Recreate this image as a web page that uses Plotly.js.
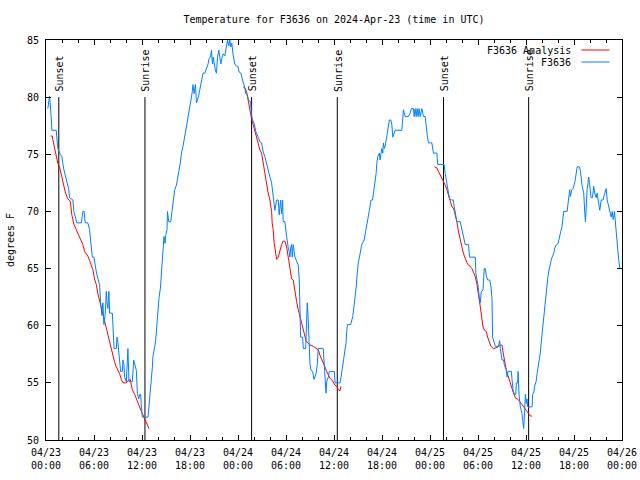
<!DOCTYPE html>
<html>
<head>
<meta charset="utf-8">
<script src="https://cdn.plot.ly/plotly-3.0.1.min.js"></script>
<style>html,body{margin:0;padding:0;background:#fff;}</style>
</head>
<body>
<div id="chart" style="width:640px;height:480px;"></div>
<script>
// Hours since 2024-04-23 00:00 UTC
var tickHours = [0, 6, 12, 18, 24, 30, 36, 42, 48, 54, 60, 66, 72];
var tickLabels = ["04/23<br>00:00","04/23<br>06:00","04/23<br>12:00","04/23<br>18:00",
                  "04/24<br>00:00","04/24<br>06:00","04/24<br>12:00","04/24<br>18:00",
                  "04/25<br>00:00","04/25<br>06:00","04/25<br>12:00","04/25<br>18:00",
                  "04/26<br>00:00"];

// Observed F3636 temperatures (deg F)
var obsHours = [
 0.23,0.44,0.65,0.73,1.28,1.48,1.78,1.98,2.19,2.44,
 2.60,2.85,2.94,3.36,3.48,3.86,4.41,4.61,4.76,4.91,
 5.23,5.45,5.57,5.66,5.79,5.99,6.16,6.29,6.49,6.70,
 6.82,6.99,7.11,7.24,7.41,7.54,7.61,7.74,7.86,7.95,
 8.29,8.45,8.51,8.79,8.87,8.99,9.08,9.20,9.33,9.54,
 9.62,9.74,9.83,10.04,10.12,10.24,10.37,10.79,10.96,11.08,
 11.29,11.42,11.58,11.71,11.83,11.92,12.05,12.75,12.87,13.05,
 13.17,13.30,13.37,13.50,13.59,13.71,13.87,14.00,14.12,14.30,
 14.43,14.55,14.63,14.75,14.88,14.96,15.13,15.18,15.34,15.59,
 15.75,15.88,16.09,16.30,16.43,16.63,16.80,16.93,17.13,17.34,
 17.43,17.56,17.68,17.84,17.97,18.18,18.31,18.38,18.51,18.68,
 18.81,18.93,19.10,19.22,19.43,19.63,19.85,20.06,20.26,20.39,
 20.56,20.69,20.81,20.91,21.04,21.19,21.31,21.44,21.60,21.73,
 21.85,21.98,22.14,22.35,22.56,22.69,22.85,22.98,23.10,23.23,
 23.39,23.60,23.82,23.98,24.14,24.36,24.57,24.73,24.86,24.98,
 25.14,25.36,25.57,25.69,25.82,26.02,26.23,26.52,26.73,26.95,
 27.15,27.36,27.57,27.77,27.99,28.20,28.40,28.61,28.83,29.03,
 29.15,29.33,29.45,29.58,29.65,29.86,30.08,30.15,30.28,30.40,
 30.49,30.58,30.70,30.78,30.90,31.12,31.33,31.53,31.66,31.74,
 31.83,32.08,32.16,32.46,32.58,32.66,32.78,32.91,33.00,33.12,
 33.33,33.50,33.62,33.75,33.91,34.03,34.66,34.75,34.87,35.00,
 35.09,35.29,35.41,36.04,36.13,36.75,36.88,37.04,37.25,37.38,
 37.50,37.59,37.67,38.09,38.34,38.50,38.63,38.76,38.92,39.04,
 39.26,39.47,39.76,39.88,40.01,40.22,40.42,40.63,40.82,41.01,
 41.14,41.26,41.35,41.47,41.67,41.76,41.97,42.10,42.17,42.30,
 42.42,42.60,42.80,42.92,43.10,43.23,43.35,43.51,43.64,44.48,
 44.60,44.68,44.89,45.10,45.30,45.52,45.68,45.93,46.02,46.14,
 46.27,46.39,46.52,46.64,46.77,46.98,47.18,47.40,47.52,47.68,
 47.81,48.23,48.43,48.86,48.96,49.77,49.90,50.03,50.19,50.44,
 50.74,50.90,51.03,51.15,51.36,51.78,51.99,52.19,52.40,52.82,
 52.94,53.66,53.74,53.87,53.99,54.16,54.28,54.41,54.62,54.78,
 54.91,55.03,55.20,55.47,55.62,55.75,55.82,56.04,56.16,56.57,
 56.70,56.79,56.91,57.00,57.20,57.29,57.54,57.63,57.75,58.17,
 58.25,58.38,58.54,58.73,58.79,58.96,59.01,59.13,59.29,59.50,
 59.58,59.71,59.79,59.92,60.04,60.13,60.21,60.76,60.83,60.96,
 61.08,61.26,61.38,61.58,61.80,62.01,62.13,62.30,62.42,62.55,
 62.71,62.83,62.96,63.14,63.26,63.46,63.59,63.80,64.01,64.17,
 64.30,64.51,64.71,65.14,65.26,65.46,65.55,65.72,65.89,66.09,
 66.27,66.40,66.68,66.81,67.02,67.22,67.35,67.43,67.56,67.64,
 67.84,67.97,68.14,68.31,68.47,68.59,68.77,68.89,69.02,69.22,
 69.40,69.62,69.81,70.02,70.15,70.35,70.48,70.65,70.78,70.90,
 71.06,71.19,71.31,71.40,71.48,71.60,71.73,71.90
];
var obsTemp = [
 79.0,80.1,78.3,77.1,77.1,75.5,75.0,74.8,73.8,73.0,
 72.5,71.9,71.2,71.0,70.0,69.0,69.0,70.0,70.0,69.0,
 69.0,68.4,67.5,66.5,66.0,66.0,65.2,64.7,64.1,63.6,
 62.1,60.9,62.0,60.1,61.1,63.0,62.1,61.5,63.0,61.1,
 61.1,59.5,58.0,58.0,59.0,58.5,57.6,56.4,56.0,56.0,
 57.0,56.6,55.5,55.1,56.4,58.0,55.1,55.1,57.0,56.7,
 56.1,54.1,53.6,54.0,54.0,52.9,52.0,52.0,52.9,54.1,
 55.5,56.4,57.3,57.7,58.2,58.7,60.5,61.4,62.4,63.3,
 64.9,65.9,67.1,67.8,67.2,67.9,68.4,70.0,69.1,69.1,
 70.0,70.6,71.9,72.3,72.7,73.6,74.3,75.1,75.7,76.5,
 77.1,77.7,78.1,78.7,79.2,80.0,80.6,81.1,80.3,81.1,
 79.5,79.7,80.2,80.6,81.3,82.1,82.1,82.5,82.9,83.4,
 83.5,84.1,82.9,83.5,82.9,82.3,82.1,83.5,84.1,83.2,
 82.9,83.4,83.8,83.6,84.4,85.0,84.5,85.0,84.4,84.7,
 83.7,82.9,82.7,82.7,82.2,82.1,81.5,81.2,80.8,80.3,
 80.2,79.7,79.6,78.4,78.0,77.7,77.0,76.5,76.1,76.0,
 75.2,74.8,74.1,73.5,73.0,72.5,71.0,70.1,71.0,71.0,
 69.7,71.0,69.8,71.0,69.1,69.1,67.8,67.2,66.8,66.5,
 66.0,66.8,67.1,66.0,67.1,66.0,65.7,65.3,64.0,62.2,
 59.0,59.0,58.0,58.0,59.9,62.0,60.5,58.0,56.6,56.1,
 56.0,55.3,55.5,55.8,56.6,58.0,58.0,57.0,55.8,54.1,
 55.1,55.5,56.0,56.0,55.0,55.0,55.5,56.3,57.1,57.7,
 58.5,59.5,60.1,60.1,60.8,61.7,62.4,63.3,64.7,65.5,
 66.3,67.1,67.5,67.9,68.4,69.3,70.1,71.0,71.0,71.9,
 72.5,73.3,74.2,74.8,75.1,74.5,75.5,75.1,76.0,75.5,
 75.8,76.5,77.4,78.0,78.0,77.6,76.5,76.8,77.1,77.1,
 78.0,78.9,78.3,78.3,78.3,78.6,79.0,79.0,78.3,79.0,
 78.3,79.0,78.3,79.0,78.3,79.0,78.3,78.3,77.4,76.5,
 76.0,76.0,75.1,75.1,74.1,74.1,73.3,72.7,71.9,71.1,
 71.0,71.0,70.4,70.0,69.1,69.1,68.4,67.9,67.1,67.1,
 66.0,66.0,64.6,64.0,63.6,62.5,62.0,63.0,63.1,65.0,
 65.0,64.4,64.0,64.0,63.4,62.4,59.0,58.5,58.2,58.2,
 58.7,58.0,57.6,57.0,57.0,56.6,56.1,55.5,56.0,56.0,
 55.3,54.4,54.0,54.0,55.0,55.0,56.0,54.0,52.9,52.3,
 51.7,51.0,52.0,54.0,53.2,53.6,52.9,52.9,54.0,54.1,
 54.7,55.1,55.8,56.7,57.7,59.3,60.2,61.5,62.5,63.3,
 64.1,64.7,65.3,65.7,66.0,66.3,66.8,67.1,67.2,67.6,
 68.1,68.7,70.0,70.0,71.0,71.9,71.3,71.9,72.0,72.5,
 73.3,73.9,73.9,73.5,72.2,71.6,69.8,69.1,70.8,71.9,
 73.0,72.2,71.2,71.2,72.2,71.6,71.2,71.6,71.0,70.1,
 71.0,71.0,71.5,72.0,71.0,70.4,70.0,69.5,70.0,69.3,
 70.0,69.1,68.2,67.8,66.6,65.7,65.0,65.0
];

// F3636 analysis (three overnight segments, null = gap)
var anaHours = [
 0.56,0.78,0.94,1.19,1.48,1.69,1.90,2.10,2.19,2.44,
 2.73,3.03,3.23,3.48,3.78,3.98,4.28,4.61,4.82,5.03,
 5.23,5.45,5.66,5.86,6.07,6.29,6.49,6.70,6.91,7.11,
 7.33,7.54,7.74,7.95,8.16,8.36,8.58,8.79,8.99,9.20,
 9.42,9.62,10.04,10.24,10.54,10.79,11.08,11.29,11.49,11.71,
 11.92,12.12,12.33,12.55,12.75,12.87,
 null,
 24.64,24.86,25.07,25.27,25.48,25.69,25.90,26.11,26.32,26.52,
 26.73,26.95,27.15,27.36,27.57,27.77,27.99,28.20,28.27,28.40,
 28.53,28.70,28.83,29.03,29.24,29.45,29.65,29.86,30.08,30.20,
 30.37,30.49,30.70,30.90,31.03,31.20,31.33,31.53,31.74,31.96,
 32.16,32.37,32.50,32.71,33.00,33.41,33.83,34.03,34.25,34.46,
 34.66,34.87,35.09,35.29,35.50,35.71,35.91,36.13,36.34,36.54,
 36.75,36.88,
 null,
 48.56,48.86,49.06,49.27,49.49,49.69,49.90,50.11,50.31,50.53,
 50.74,50.94,51.15,51.36,51.57,51.78,51.99,52.19,52.40,52.62,
 52.82,53.03,53.24,53.44,53.66,53.87,54.07,54.28,54.49,54.62,
 54.82,55.03,55.20,55.41,55.62,55.95,56.37,56.79,57.00,57.13,
 57.29,57.41,57.54,57.70,57.88,58.04,58.25,58.45,58.66,58.88,
 59.08,59.29,59.50,59.71,59.92,60.13,60.33,60.54,60.76
];
var anaTemp = [
 76.6,76.6,76.0,75.1,74.2,73.9,73.3,72.7,72.2,71.6,
 71.1,70.9,69.7,68.9,68.4,68.1,67.6,67.1,66.5,66.3,
 66.1,65.7,65.3,64.9,64.1,63.6,62.8,62.2,61.5,60.9,
 60.4,59.8,59.2,58.6,57.9,57.4,56.8,56.4,56.1,55.8,
 55.3,55.0,55.0,55.2,55.3,54.4,54.0,53.6,53.2,52.9,
 52.5,52.2,51.9,51.6,51.3,51.0,
 null,
 80.9,80.8,80.5,79.7,78.9,78.1,77.6,77.0,76.5,76.0,
 75.4,75.1,74.2,73.3,72.5,71.6,71.0,70.0,69.0,68.4,
 67.2,66.2,65.8,66.0,66.6,67.1,67.4,67.4,66.9,66.3,
 65.5,64.7,64.1,64.0,63.3,62.5,62.1,61.4,60.8,60.4,
 59.8,59.2,58.7,58.5,58.3,58.2,58.0,57.9,57.4,57.0,
 56.7,56.4,56.0,55.7,55.4,55.3,55.0,54.8,54.7,54.4,
 54.3,54.7,
 null,
 73.9,73.8,73.5,73.2,72.9,72.7,72.3,71.9,71.4,70.9,
 70.4,70.3,69.7,69.1,68.2,67.4,66.9,66.3,65.8,65.5,
 65.3,65.2,65.0,64.7,64.3,63.6,62.8,61.7,60.6,59.9,
 59.6,59.5,59.0,58.6,58.2,58.0,58.1,58.3,58.3,57.7,
 57.2,56.6,56.1,55.7,55.3,55.0,54.5,54.1,53.7,53.6,
 53.5,53.3,53.1,53.0,52.8,52.5,52.3,52.1,52.1
];

// Sunrise / sunset markers
var sunHours = [1.60, 12.37, 25.70, 36.41, 49.69, 60.33];
var sunLabels = ["Sunset", "Sunrise", "Sunset", "Sunrise", "Sunset", "Sunrise"];
var sunLineBottom = 50;
var sunLineTop = 80;

var FONT = "DejaVu Sans Mono, Liberation Mono, monospace";
var BLUE = "rgb(0,128,255)";
var RED = "rgb(255,0,0)";

var traces = [];
sunHours.forEach(function (h) {
  traces.push({
    x: [h, h], y: [sunLineBottom, sunLineTop], mode: "lines",
    line: {color: "black", width: 1}, hoverinfo: "skip", showlegend: false
  });
});
traces.push({
  x: anaHours, y: anaTemp, mode: "lines", name: "F3636 Analysis",
  line: {color: RED, width: 1}, connectgaps: false
});
traces.push({
  x: obsHours, y: obsTemp, mode: "lines", name: "F3636",
  line: {color: BLUE, width: 1}
});

var annotations = sunHours.map(function (h, i) {
  return {
    x: h, y: sunLineTop + 0.3, xref: "x", yref: "y",
    text: sunLabels[i], showarrow: false, textangle: -90,
    xanchor: "center", yanchor: "bottom", xshift: 1,
    font: {family: FONT, size: 10, color: "black"}
  };
});
annotations.push({
  x: 0.9157, y: 0.975, xref: "paper", yref: "paper", text: "F3636 Analysis",
  showarrow: false, xanchor: "right", yanchor: "middle",
  font: {family: FONT, size: 10, color: "black"}
});
annotations.push({
  x: 0.9157, y: 0.945, xref: "paper", yref: "paper", text: "F3636",
  showarrow: false, xanchor: "right", yanchor: "middle",
  font: {family: FONT, size: 10, color: "black"}
});

var shapes = [
  {type: "line", xref: "paper", yref: "paper", x0: 0.9296, x1: 0.9783, y0: 0.975, y1: 0.975,
   line: {color: RED, width: 1}},
  {type: "line", xref: "paper", yref: "paper", x0: 0.9296, x1: 0.9783, y0: 0.945, y1: 0.945,
   line: {color: BLUE, width: 1}}
];

var layout = {
  width: 640, height: 480,
  margin: {l: 46, r: 18, t: 40, b: 40, pad: 0},
  paper_bgcolor: "white", plot_bgcolor: "white",
  showlegend: false, hovermode: false,
  font: {family: FONT, size: 10, color: "black"},
  title: {
    text: "Temperature for F3636 on 2024-Apr-23 (time in UTC)",
    font: {family: FONT, size: 10, color: "black"},
    x: 0.5, xref: "paper", xanchor: "center",
    y: 1 - 19 / 480, yref: "container", yanchor: "middle"
  },
  xaxis: {
    range: [0, 72], tickmode: "array", tickvals: tickHours, ticktext: tickLabels,
    ticks: "inside", ticklen: 5, tickwidth: 1, tickcolor: "black",
    minor: {tickmode: "linear", tick0: 0, dtick: 2, ticks: "inside", ticklen: 3, tickcolor: "black", showgrid: false},
    showline: true, linecolor: "black", linewidth: 1, mirror: "allticks",
    showgrid: false, zeroline: false, fixedrange: true,
    ticklabelstandoff: 3,
    tickfont: {family: FONT, size: 10, color: "black"}
  },
  yaxis: {
    range: [50, 85], tickmode: "linear", tick0: 50, dtick: 5,
    ticks: "inside", ticklen: 5, tickwidth: 1, tickcolor: "black",
    showline: true, linecolor: "black", linewidth: 1, mirror: "allticks",
    showgrid: false, zeroline: false, fixedrange: true,
    ticklabelstandoff: 4,
    tickfont: {family: FONT, size: 10, color: "black"},
    title: {text: "degrees F", font: {family: FONT, size: 10, color: "black"}, standoff: 10}
  },
  annotations: annotations,
  shapes: shapes
};

Plotly.newPlot("chart", traces, layout, {displayModeBar: false, staticPlot: true});
</script>
</body>
</html>
